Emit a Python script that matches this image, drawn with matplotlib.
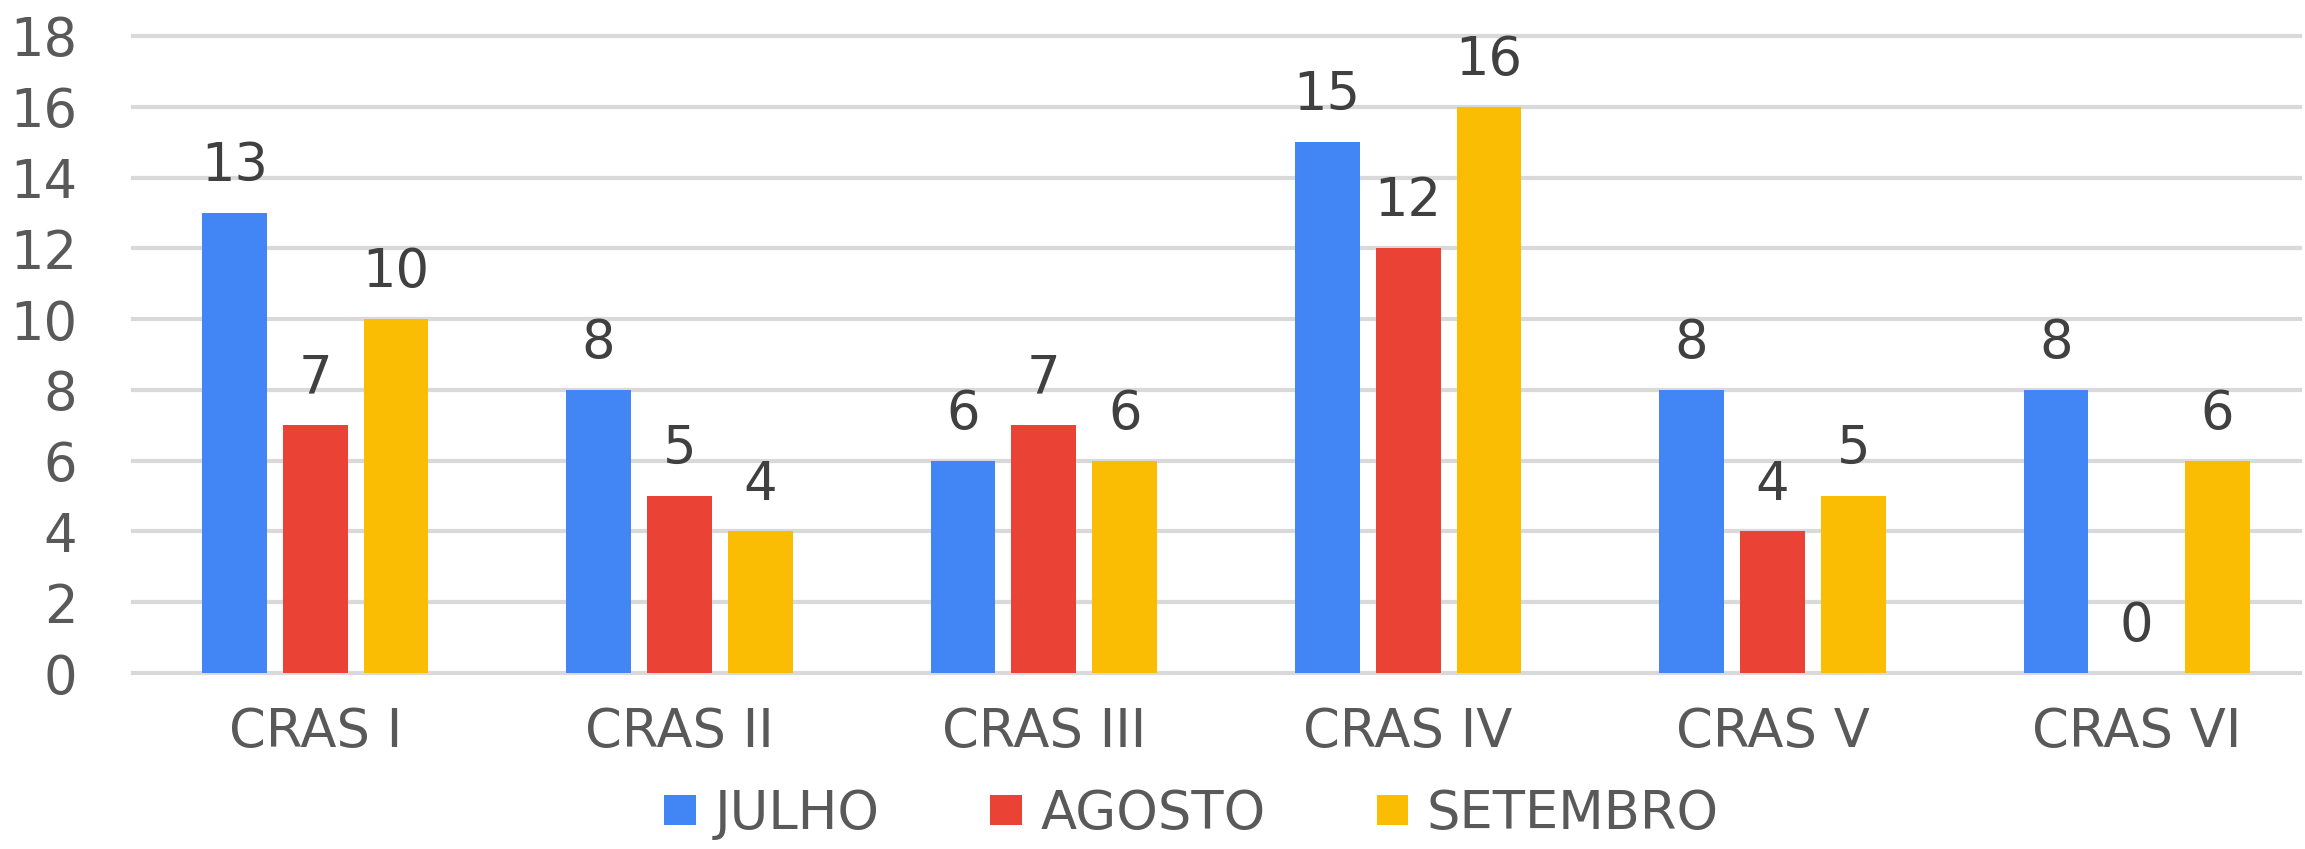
import numpy as np
import matplotlib
matplotlib.use("Agg")
import matplotlib.pyplot as plt

categorias = ["CRAS I", "CRAS II", "CRAS III", "CRAS IV", "CRAS V", "CRAS VI"]
julho = [13, 8, 6, 15, 8, 8]
agosto = [7, 5, 7, 12, 4, 0]
setembro = [10, 4, 6, 16, 5, 6]
meses = ["JULHO", "AGOSTO", "SETEMBRO"]
cores = ["#4285F4", "#EA4335", "#FBBC04"]

plt.rcParams["font.family"] = ["DejaVu Sans"]

fig = plt.figure(figsize=(23.05, 8.49), dpi=100)
ax = fig.add_axes([0.0577, 0.2073, 0.9403, 0.7503])

x = np.arange(len(categorias))
largura = 0.178
desloc = 0.222

for i, (serie, cor, nome) in enumerate(zip([julho, agosto, setembro], cores, meses)):
    barras = ax.bar(x + (i - 1) * desloc, serie, largura, color=cor, label=nome, zorder=2)
    ax.bar_label(barras, padding=15, fontsize=38, color="#404040")

ax.set_xlim(-0.5, 5.449)
ax.set_ylim(0, 18)
ax.set_yticks(range(0, 19, 2))
ax.set_xticks(x)
ax.set_xticklabels(categorias)
ax.grid(axis="y", color="#d9d9d9", linewidth=3)
ax.set_axisbelow(True)
for g in ax.yaxis.get_gridlines():
    g.set_clip_on(False)
for s in ax.spines.values():
    s.set_visible(False)
ax.tick_params(axis="y", length=0, pad=40, labelsize=38, labelcolor="#595959")
ax.tick_params(axis="x", length=0, pad=24, labelsize=38, labelcolor="#595959")

fig.legend(loc="center", bbox_to_anchor=(0.517, 1 - 814 / 849), ncol=3, frameon=False,
           fontsize=38, labelcolor="#595959", handlelength=0.6, handleheight=0.5,
           handletextpad=0.35, columnspacing=2.1, borderpad=0)

fig.savefig("out.png", dpi=100)
